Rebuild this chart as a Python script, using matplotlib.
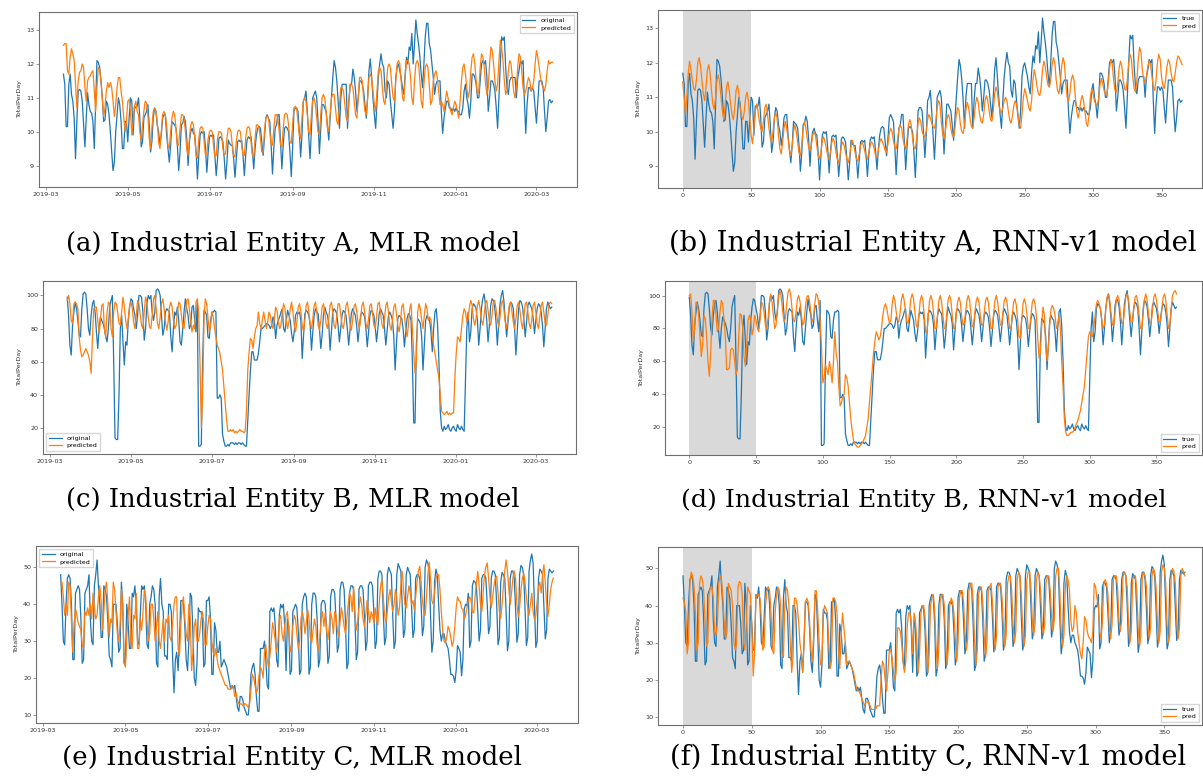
import numpy as np
import pandas as pd
import matplotlib
matplotlib.use("Agg")
import matplotlib.pyplot as plt
import matplotlib.dates as mdates

# one year of daily totals, 2019-03-14 .. 2020-03-13 (rows are Thu..Wed weeks)
dates = pd.date_range("2019-03-14", periods=366, freq="D")
steps = np.arange(366)

a_true = [
    11.7, 11.4, 10.15, 10.15, 11.4, 11.7, 11.1,
    10.9, 10.4, 9.2, 10.3, 11.2, 11.25, 11.2,
    10.9, 10.2, 9.55, 10.4, 11.15, 10.8, 10.6,
    10.55, 10.3, 9.5, 10.8, 12.1, 12.05, 11.9,
    11.5, 11.0, 10.3, 10.35, 10.9, 10.8, 10.5,
    10.0, 9.4, 8.85, 9.1, 10.0, 10.5, 11.0,
    10.8, 10.3, 9.5, 9.5, 10.3, 10.3, 9.7,
    10.4, 11.0, 10.9, 9.9, 10.75, 10.7, 10.75,
    11.0, 10.4, 9.55, 9.7, 10.4, 10.5, 10.6,
    10.8, 10.2, 9.4, 9.7, 10.4, 10.7, 10.6,
    10.2, 10.0, 9.6, 9.9, 10.4, 10.5, 10.5,
    9.9, 9.5, 9.1, 9.6, 10.3, 10.25, 10.2,
    10.1, 9.6, 8.85, 9.4, 10.2, 10.25, 10.45,
    10.3, 9.8, 9.0, 9.7, 10.0, 10.1, 9.95,
    9.9, 9.4, 8.6, 9.3, 9.9, 10.0, 9.95,
    10.0, 9.5, 8.8, 9.4, 9.85, 9.9, 9.85,
    9.9, 9.3, 8.7, 9.2, 9.8, 9.85, 9.8,
    9.7, 9.2, 8.6, 9.1, 9.75, 9.65, 9.6,
    9.6, 9.2, 8.65, 9.2, 9.7, 9.75, 9.7,
    9.75, 9.3, 8.7, 9.3, 9.75, 9.85, 9.8,
    9.85, 9.4, 8.9, 9.5, 9.9, 10.1, 10.15,
    10.1, 9.7, 9.3, 9.8, 10.4, 10.5, 10.4,
    10.3, 9.6, 8.75, 9.5, 10.1, 10.2, 10.5,
    10.5, 9.7, 8.9, 9.6, 10.1, 10.15, 10.1,
    10.0, 9.4, 8.67, 9.5, 10.6, 10.7, 10.7,
    10.6, 10.0, 9.25, 9.9, 10.9, 11.0, 11.2,
    10.6, 9.9, 9.2, 10.0, 11.0, 11.1, 11.2,
    11.0, 10.3, 9.35, 10.1, 10.8, 10.8, 10.7,
    10.6, 10.2, 9.75, 10.4, 11.0, 11.6, 12.1,
    11.9, 11.5, 10.9, 10.1, 11.0, 11.4, 11.4,
    11.4, 11.4, 10.1, 10.9, 11.4, 11.4, 11.85,
    11.6, 11.2, 10.6, 11.0, 11.5, 11.5, 11.4,
    11.2, 10.8, 10.4, 11.0, 11.8, 12.15, 11.6,
    11.0, 10.5, 10.1, 10.9, 11.6, 12.0, 12.3,
    12.0, 11.9, 11.2, 11.0, 11.5, 11.4, 10.9,
    10.5, 10.1, 10.6, 11.6, 11.9, 12.0, 11.8,
    11.6, 11.3, 11.1, 11.7, 12.2, 12.0, 12.5,
    12.4, 12.9, 12.0, 12.6, 13.3, 12.9, 12.6,
    12.2, 11.7, 11.3, 12.0, 12.8, 13.2, 13.2,
    12.6, 12.4, 12.0, 11.6, 11.1, 11.4, 11.5,
    11.5, 11.5, 10.6, 9.95, 10.4, 10.7, 10.9,
    10.9, 10.7, 10.7, 10.6, 10.7, 10.6, 10.7,
    10.6, 10.6, 10.5, 10.5, 10.7, 11.2, 11.4,
    11.0, 10.8, 10.4, 10.9, 11.7, 11.7, 11.6,
    11.4, 11.0, 11.0, 11.5, 12.0, 12.1, 12.0,
    12.1, 11.6, 10.6, 11.0, 11.5, 11.5, 11.4,
    11.2, 10.7, 10.1, 11.0, 12.0, 12.8, 12.7,
    12.8, 11.9, 11.3, 11.1, 11.5, 11.6, 11.6,
    11.6, 11.6, 11.0, 11.6, 11.8, 12.1, 12.0,
    12.1, 10.9, 9.95, 10.8, 11.3, 11.3, 11.2,
    11.3, 11.2, 10.7, 10.25, 10.9, 11.5, 11.5,
    11.5, 11.3, 10.6, 10.0, 10.4, 10.9, 10.95,
    10.85, 10.9,
]

a_mlr = [
    12.55, 12.6, 12.6, 11.8, 11.7, 12.2, 12.45,
    12.3, 12.1, 11.4, 10.7, 11.5, 11.75, 11.8,
    12.0, 11.9, 11.3, 10.9, 11.5, 11.6, 11.65,
    11.75, 11.8, 11.2, 10.6, 11.3, 11.9, 11.85,
    11.5, 11.0, 10.45, 10.7, 11.2, 11.45, 11.3,
    11.45, 11.3, 10.9, 10.45, 10.8, 11.3, 11.6,
    11.6, 11.2, 10.9, 10.4, 10.0, 10.3, 10.9,
    10.95, 10.6, 9.9, 10.3, 10.75, 10.9, 10.6,
    10.5, 10.0, 9.7, 10.2, 10.6, 10.9, 10.85,
    10.5, 9.8, 9.5, 10.1, 10.6, 10.7, 10.6,
    10.3, 9.7, 9.5, 10.0, 10.5, 10.6, 10.5,
    10.2, 9.6, 9.5, 10.0, 10.4, 10.6, 10.5,
    10.1, 9.6, 9.6, 10.1, 10.5, 10.5, 10.4,
    10.0, 9.5, 9.3, 9.8, 10.2, 10.3, 10.2,
    9.8, 9.3, 9.2, 9.8, 10.1, 10.15, 10.1,
    9.7, 9.3, 9.35, 9.8, 10.0, 10.05, 10.0,
    9.6, 9.25, 9.3, 9.8, 10.0, 10.0, 9.95,
    9.5, 9.3, 9.35, 9.8, 10.1, 10.1, 10.0,
    9.6, 9.3, 9.25, 9.7, 10.0, 10.05, 10.0,
    9.6, 9.3, 9.3, 9.8, 10.1, 10.15, 10.1,
    9.7, 9.3, 9.25, 9.8, 10.2, 10.2, 10.1,
    9.8, 9.4, 9.4, 10.0, 10.4, 10.45, 10.4,
    10.0, 9.6, 9.6, 10.1, 10.5, 10.5, 10.4,
    10.0, 9.6, 9.55, 10.1, 10.5, 10.55, 10.5,
    10.2, 9.7, 9.65, 10.2, 10.7, 10.75, 10.7,
    10.3, 9.9, 9.8, 10.4, 10.9, 11.0, 10.9,
    10.5, 10.0, 9.9, 10.5, 10.9, 11.0, 10.8,
    10.4, 10.0, 9.9, 10.5, 11.0, 11.1, 11.0,
    10.6, 10.1, 10.0, 10.5, 11.0, 11.1, 11.1,
    10.7, 10.3, 10.2, 10.8, 11.3, 11.3, 11.2,
    10.8, 10.4, 10.3, 10.9, 11.4, 11.4, 11.3,
    10.9, 10.5, 10.4, 11.0, 11.6, 11.6, 11.5,
    11.0, 10.6, 10.5, 11.0, 11.6, 11.7, 11.6,
    11.2, 10.8, 10.6, 11.2, 11.8, 11.9, 11.8,
    11.3, 10.9, 10.8, 11.4, 11.9, 12.0, 11.9,
    11.4, 11.0, 10.9, 11.5, 12.0, 12.1, 12.0,
    11.5, 11.0, 10.9, 11.6, 12.1, 12.1, 12.0,
    11.6, 11.0, 10.8, 11.5, 12.0, 12.1, 12.0,
    11.5, 10.9, 10.7, 11.4, 11.9, 12.0, 11.9,
    11.4, 10.8, 10.9, 11.5, 11.7, 11.8, 11.6,
    11.2, 10.8, 10.9, 10.8, 10.6, 10.9, 11.2,
    11.0, 10.8, 10.6, 10.5, 10.7, 10.9, 10.8,
    10.6, 10.4, 10.9, 11.5, 11.9, 12.0, 11.7,
    11.3, 11.0, 11.2, 11.8, 12.2, 12.3, 12.0,
    11.5, 11.1, 11.2, 11.9, 12.3, 12.2, 11.9,
    11.4, 11.1, 11.3, 12.0, 12.5, 12.4, 12.0,
    11.5, 11.2, 11.4, 12.1, 12.7, 12.5, 12.1,
    11.5, 11.1, 11.2, 11.8, 12.1, 12.0, 11.6,
    11.2, 11.0, 11.3, 11.9, 12.3, 12.2, 11.8,
    11.3, 11.1, 11.2, 11.4, 11.6, 11.5, 11.2,
    11.3, 11.5, 12.0, 12.4, 12.2, 11.9, 11.6,
    11.4, 11.3, 11.2, 11.4, 11.8, 12.1, 12.0,
    12.05, 12.05,
]

a_rnn = [
    11.45, 11.0, 10.5, 11.0, 11.7, 12.05, 11.8,
    11.5, 11.25, 11.2, 11.5, 12.0, 12.15, 11.9,
    11.5, 11.1, 10.9, 11.3, 11.8, 11.95, 11.7,
    11.2, 10.8, 10.65, 11.0, 11.5, 11.65, 11.4,
    11.0, 10.6, 10.35, 10.8, 11.3, 11.45, 11.2,
    10.8, 10.5, 10.35, 10.7, 11.2, 11.35, 11.1,
    10.7, 10.45, 10.35, 10.6, 11.0, 11.15, 10.9,
    10.4, 9.9, 9.65, 10.1, 10.6, 10.8, 10.6,
    10.3, 10.1, 10.0, 10.3, 10.7, 10.8, 10.5,
    10.1, 9.8, 9.7, 10.0, 10.4, 10.55, 10.4,
    9.9, 9.5, 9.35, 9.7, 10.1, 10.3, 10.1,
    9.8, 9.45, 9.3, 9.6, 10.0, 10.2, 10.0,
    9.7, 9.4, 9.3, 9.6, 10.1, 10.3, 10.1,
    9.8, 9.55, 9.45, 9.6, 9.9, 10.0, 9.9,
    9.6, 9.3, 9.2, 9.4, 9.75, 9.85, 9.7,
    9.5, 9.3, 9.2, 9.4, 9.7, 9.8, 9.7,
    9.4, 9.2, 9.1, 9.3, 9.6, 9.7, 9.6,
    9.4, 9.2, 9.1, 9.3, 9.6, 9.75, 9.6,
    9.4, 9.2, 9.15, 9.35, 9.6, 9.7, 9.6,
    9.45, 9.25, 9.2, 9.4, 9.6, 9.7, 9.65,
    9.5, 9.3, 9.25, 9.45, 9.7, 9.8, 9.7,
    9.6, 9.45, 9.4, 9.65, 9.95, 10.1, 10.0,
    9.75, 9.55, 9.5, 9.75, 10.05, 10.2, 10.1,
    9.8, 9.6, 9.5, 9.8, 10.2, 10.35, 10.2,
    9.8, 9.55, 9.5, 9.8, 10.25, 10.4, 10.3,
    10.0, 9.9, 9.85, 10.0, 10.35, 10.5, 10.4,
    10.25, 10.15, 10.1, 10.3, 10.7, 10.9, 10.8,
    10.3, 9.95, 9.8, 10.0, 10.35, 10.5, 10.4,
    10.1, 9.9, 9.85, 10.1, 10.5, 10.7, 10.6,
    10.2, 10.0, 9.95, 10.2, 10.65, 10.85, 10.7,
    10.4, 10.15, 10.1, 10.4, 10.8, 11.0, 10.85,
    10.5, 10.3, 10.25, 10.5, 10.9, 11.05, 10.9,
    10.6, 10.35, 10.3, 10.6, 11.1, 11.3, 11.15,
    10.8, 10.6, 10.55, 10.7, 10.9, 11.0, 10.9,
    10.6, 10.35, 10.25, 10.45, 10.75, 10.9, 10.8,
    10.5, 10.2, 10.1, 10.5, 11.0, 11.25, 11.1,
    10.9, 10.7, 10.6, 10.9, 11.5, 11.8, 11.6,
    11.3, 11.1, 11.05, 11.3, 11.8, 12.05, 11.9,
    11.6, 11.35, 11.3, 11.5, 11.95, 12.15, 12.0,
    11.5, 11.2, 11.1, 11.4, 11.9, 12.15, 12.0,
    11.4, 11.0, 10.9, 11.1, 11.5, 11.65, 11.5,
    11.0, 10.6, 10.4, 10.6, 10.9, 11.05, 10.9,
    10.6, 10.25, 10.15, 10.5, 11.0, 11.25, 11.1,
    10.9, 10.8, 10.75, 10.95, 11.35, 11.55, 11.4,
    11.2, 11.1, 11.05, 11.4, 11.85, 12.1, 11.95,
    11.5, 11.2, 11.15, 11.4, 11.85, 12.05, 11.9,
    11.5, 11.25, 11.2, 11.5, 12.0, 12.25, 12.1,
    11.6, 11.25, 11.15, 11.5, 12.1, 12.45, 12.3,
    11.8, 11.5, 11.4, 11.6, 11.9, 12.05, 11.95,
    11.6, 11.3, 11.2, 11.5, 12.0, 12.25, 12.1,
    11.6, 11.35, 11.25, 11.5, 11.9, 12.1, 12.0,
    11.7, 11.5, 11.45, 11.7, 12.0, 12.2, 12.15,
    12.05, 11.95,
]

b_true = [
    99, 88, 70, 64, 82, 90, 96,
    92, 85, 76, 75, 92, 101, 102,
    101, 92, 80, 76, 88, 95, 97,
    90, 78, 68, 80, 87, 85, 83,
    80, 75, 72, 80, 93, 97, 100,
    60, 14, 13, 13, 40, 80, 88,
    72, 58, 72, 70, 85, 93, 98,
    97, 92, 88, 80, 88, 100, 100,
    99, 90, 73, 80, 95, 100, 98,
    100, 90, 85, 90, 103, 104, 103,
    100, 88, 76, 80, 90, 92, 91,
    90, 75, 66, 80, 90, 88, 93,
    85, 72, 70, 80, 90, 98, 92,
    88, 80, 82, 93, 94, 85, 78,
    97, 9, 9, 10, 60, 91, 90,
    88, 75, 74, 85, 90, 90, 91,
    90, 38, 38, 40, 38, 16, 12,
    9, 9, 10, 9, 11, 11, 11,
    10, 11, 10, 11, 11, 10, 11,
    10, 9, 9, 25, 40, 55, 66,
    66, 61, 61, 61, 65, 72, 80,
    80, 81, 82, 83, 83, 82, 80,
    82, 87, 85, 74, 82, 85, 87,
    90, 92, 80, 78, 85, 91, 88,
    85, 77, 72, 78, 88, 90, 89,
    90, 85, 62, 75, 89, 91, 90,
    88, 82, 67, 78, 88, 92, 90,
    89, 80, 68, 76, 88, 93, 90,
    88, 83, 67, 78, 90, 92, 91,
    89, 82, 72, 80, 88, 91, 90,
    88, 80, 70, 79, 89, 92, 90,
    88, 82, 72, 80, 88, 90, 89,
    87, 80, 69, 78, 88, 91, 90,
    88, 81, 72, 80, 89, 92, 90,
    88, 80, 70, 79, 88, 90, 88,
    85, 75, 55, 70, 86, 88, 87,
    86, 80, 69, 78, 86, 89, 88,
    85, 60, 23, 23, 70, 86, 85,
    83, 75, 55, 70, 85, 88, 86,
    85, 78, 66, 80, 90, 92, 82,
    60, 30, 20, 18, 21, 19, 20,
    22, 19, 18, 20, 21, 19, 18,
    22, 20, 19, 21, 19, 18, 50,
    80, 90, 72, 78, 92, 95, 94,
    92, 85, 70, 80, 92, 98, 101,
    95, 85, 72, 82, 94, 98, 97,
    93, 84, 70, 82, 95, 100, 103,
    96, 85, 75, 84, 93, 96, 95,
    92, 80, 64, 78, 92, 97, 96,
    93, 85, 75, 84, 94, 96, 94,
    92, 86, 77, 85, 92, 95, 94,
    90, 82, 69, 80, 92, 96, 94,
    92, 93,
]

b_mlr = [
    97, 100, 95, 85, 83, 95, 96,
    95, 92, 75, 67, 63, 64, 66,
    68, 66, 64, 60, 53, 75, 92,
    93, 93, 85, 77, 85, 94, 95,
    80, 75, 90, 96, 95, 80, 75,
    90, 96, 95, 90, 83, 82, 90,
    99, 93, 85, 80, 86, 94, 96,
    92, 84, 80, 88, 97, 95, 88,
    82, 80, 90, 99, 96, 87, 81,
    80, 88, 98, 100, 92, 83, 80,
    87, 95, 98, 92, 84, 79, 84,
    93, 96, 93, 85, 80, 82, 90,
    96, 95, 88, 81, 80, 88, 97,
    98, 92, 84, 78, 82, 80, 96,
    98, 90, 60, 20, 40, 85, 98,
    95, 87, 78, 82, 90, 87, 80,
    75, 70, 68, 65, 60, 55, 45,
    35, 25, 18, 18, 19, 18, 19,
    17, 18, 17, 18, 19, 18, 18,
    17, 18, 30, 55, 66, 74, 73,
    68, 75, 80, 82, 90, 83, 80,
    85, 90, 85, 80, 84, 90, 88,
    82, 80, 86, 93, 91, 84, 80,
    82, 90, 95, 92, 85, 80, 84,
    92, 96, 90, 82, 78, 84, 93,
    95, 90, 82, 78, 85, 94, 96,
    90, 83, 80, 86, 94, 96, 90,
    82, 79, 85, 93, 95, 90, 83,
    80, 86, 94, 96, 90, 82, 80,
    87, 95, 95, 89, 82, 80, 86,
    94, 96, 90, 83, 79, 85, 93,
    95, 91, 84, 80, 86, 94, 96,
    90, 83, 80, 86, 94, 95, 89,
    82, 80, 87, 95, 96, 90, 83,
    80, 86, 94, 96, 90, 82, 79,
    85, 93, 95, 89, 82, 78, 84,
    93, 95, 88, 80, 75, 82, 92,
    95, 80, 65, 53, 60, 90, 95,
    92, 85, 80, 88, 95, 92, 85,
    87, 85, 75, 70, 65, 60, 55,
    50, 40, 30, 29, 28, 29, 30,
    28, 29, 28, 29, 29, 50, 65,
    75, 74, 72, 80, 88, 92, 90,
    84, 86, 93, 97, 94, 86, 82,
    86, 94, 97, 92, 85, 82, 88,
    95, 97, 91, 84, 82, 88, 96,
    97, 92, 85, 81, 87, 95, 97,
    91, 84, 80, 86, 94, 96, 90,
    84, 80, 86, 94, 96, 91, 84,
    80, 87, 95, 96, 90, 83, 80,
    86, 94, 96, 90, 83, 80, 87,
    94, 96, 90, 83, 82, 88, 95,
    96, 95,
]

b_rnn = [
    100, 101, 90, 72, 80, 96, 95,
    88, 75, 63, 70, 88, 86, 75,
    60, 51, 65, 86, 97, 97, 88,
    78, 80, 90, 97, 95, 85, 75,
    55, 55, 56, 67, 68, 67, 60,
    52, 55, 75, 89, 88, 80, 63,
    57, 70, 85, 88, 86, 76, 80,
    88, 85, 80, 78, 85, 96, 95,
    90, 82, 80, 86, 96, 101, 96,
    88, 80, 82, 92, 100, 103, 98,
    90, 84, 86, 95, 102, 104, 100,
    92, 85, 84, 90, 98, 100, 96,
    88, 82, 84, 93, 99, 100, 97,
    90, 84, 86, 95, 101, 100, 95,
    85, 70, 47, 50, 58, 55, 52,
    60, 55, 47, 60, 78, 65, 60,
    45, 33, 35, 38, 40, 52, 50,
    45, 35, 25, 18, 12, 10, 9,
    8, 8, 9, 10, 11, 13, 15,
    20, 25, 35, 45, 55, 65, 72,
    78, 76, 73, 75, 80, 88, 93,
    95, 92, 87, 83, 85, 95, 100,
    97, 90, 85, 84, 90, 98, 101,
    97, 90, 84, 83, 90, 98, 101,
    98, 90, 82, 80, 88, 97, 100,
    97, 88, 78, 77, 87, 97, 100,
    97, 89, 80, 80, 88, 97, 100,
    96, 88, 80, 80, 90, 98, 100,
    97, 88, 80, 80, 88, 96, 99,
    96, 88, 82, 83, 90, 97, 100,
    97, 89, 81, 82, 90, 97, 99,
    96, 88, 82, 82, 90, 97, 99,
    96, 88, 80, 80, 89, 97, 100,
    96, 89, 82, 82, 90, 97, 99,
    96, 88, 80, 80, 88, 96, 98,
    94, 85, 75, 74, 85, 95, 98,
    95, 88, 80, 80, 88, 96, 98,
    95, 88, 75, 62, 65, 82, 93,
    88, 70, 60, 68, 82, 92, 94,
    92, 88, 80, 82, 88, 80, 60,
    45, 25, 17, 15, 15, 16, 17,
    17, 18, 20, 22, 24, 27, 30,
    35, 40, 45, 55, 65, 75, 78,
    76, 75, 80, 88, 95, 97, 95,
    92, 85, 80, 82, 92, 99, 101,
    97, 89, 82, 82, 90, 98, 100,
    97, 89, 83, 83, 91, 99, 101,
    98, 90, 84, 84, 92, 99, 100,
    96, 88, 80, 80, 89, 98, 101,
    97, 89, 83, 83, 91, 99, 101,
    97, 90, 84, 84, 92, 99, 101,
    97, 88, 80, 82, 92, 100, 102,
    103, 101,
]

c_true = [
    48, 40, 30, 29, 40, 47, 48,
    47, 40, 25, 25, 43, 44, 45,
    44, 36, 24, 25, 43, 44, 45,
    48, 36, 30, 29, 45, 48, 52,
    45, 40, 31, 31, 45, 44, 42,
    35, 26, 25, 23, 40, 40, 40,
    35, 27, 28, 46, 40, 24, 25,
    40, 35, 28, 28, 43, 42, 45,
    40, 30, 29, 37, 45, 44, 45,
    40, 29, 28, 40, 42, 45, 44,
    40, 24, 23, 42, 47, 40, 38,
    26, 26, 25, 40, 40, 38, 25,
    16, 25, 27, 22, 30, 41, 41,
    40, 34, 25, 22, 30, 43, 42,
    32, 20, 18, 24, 39, 38, 38,
    36, 23, 24, 41, 41, 42, 36,
    21, 21, 35, 33, 27, 27, 30,
    23, 24, 25, 24, 23, 21, 19,
    17, 18, 17, 18, 15, 12, 11,
    15, 15, 14, 12, 11, 10, 10,
    14, 21, 23, 24, 21, 15, 11,
    11, 28, 28, 28, 30, 25, 18,
    17, 38, 39, 38, 39, 34, 25,
    23, 37, 40, 39, 40, 34, 22,
    36, 34, 21, 22, 38, 39, 40,
    39, 33, 21, 22, 40, 42, 43,
    42, 35, 21, 23, 40, 43, 43,
    42, 36, 23, 25, 40, 41, 41,
    40, 33, 24, 26, 42, 44, 44,
    43, 36, 27, 29, 44, 46, 46,
    44, 35, 22.5, 24, 43, 45, 45,
    44, 36, 25, 27, 44, 45, 45,
    44, 37, 27.5, 30, 45, 46, 46,
    45, 38, 28, 30, 47, 49, 49,
    48, 38, 29, 31, 48, 50, 49,
    48, 37, 28, 30, 48, 51, 50,
    49, 40, 31, 33, 48, 50, 49,
    48, 39, 31, 33, 47, 48, 48,
    47, 40, 31.5, 34, 50, 52, 51,
    49, 37, 27, 30, 46, 49.5, 48,
    40, 33, 30, 32, 32, 30, 29,
    28, 25, 21, 21, 20.5, 18.8, 22,
    28.8, 28, 27, 20.6, 25, 38.7, 40,
    39.6, 43, 28.3, 30, 45, 46.4, 46,
    45, 38, 30, 33, 47, 48, 48,
    47, 40, 32, 34, 47, 49, 49,
    48, 40, 29, 31, 46, 48.6, 48,
    47, 38, 27.4, 30, 47, 49, 49,
    47, 39, 29.7, 32, 48, 50.5, 50,
    48, 39, 28.8, 31, 49, 52, 53.6,
    51, 40, 28.3, 30, 47, 49.5, 49,
    48, 39, 30.6, 33, 47, 49.5, 49,
    48.5, 49,
]

c_mlr = [
    46, 46, 42, 37, 40, 37, 46,
    45, 35, 27, 35, 39, 37, 35,
    34, 33, 29, 28, 38, 37, 39,
    37, 40, 36, 43, 39, 36, 37,
    42, 45, 41, 33, 38, 44, 46,
    40, 31, 36, 35, 46, 44, 38,
    32, 30, 34, 44, 40, 24, 23,
    31, 37, 42, 30, 28, 37, 36,
    43, 28, 28, 36, 33, 38, 44,
    42, 35, 30, 32, 40, 40, 36,
    30, 34, 38, 30, 28, 32, 36,
    30, 36, 35, 37, 31, 30, 35,
    40, 42, 42, 28, 26, 34, 40,
    42, 36, 32, 30, 40, 36, 22,
    27, 34, 36, 30, 30, 32, 36,
    38, 35, 29, 29, 34, 37, 36,
    30, 27, 26, 28, 25, 23, 22,
    21, 20, 19, 18, 18, 17, 17,
    17, 18, 17.5, 15, 16, 14, 13,
    13, 13, 12.5, 13, 13, 12.5, 12,
    13, 17, 21, 20, 18, 16, 17,
    21, 23, 22, 20, 27, 29, 25,
    23, 26, 30, 35, 33, 30, 27,
    30, 36, 37, 32, 30, 34, 37,
    38, 33, 27, 29, 34, 37, 36,
    32, 28, 30, 36, 38, 36, 32,
    35, 38.5, 36, 31, 29.5, 33, 36,
    34, 29, 27.6, 31, 36, 38, 34,
    37.6, 33, 30.4, 34, 38, 36, 32,
    38, 37, 33, 31.3, 35, 39, 37,
    34, 32, 36, 40, 43, 42, 38,
    44.8, 38, 33, 35, 39, 42, 40,
    36, 34, 37, 41, 38, 35, 38,
    37, 35, 39, 36, 34.4, 40, 45,
    46.7, 42, 37, 35, 38, 42, 44,
    41, 38, 40, 44, 42, 37, 39,
    45, 48.9, 44, 40, 39, 42, 45,
    43, 40, 41, 38.5, 42, 46, 49,
    50.3, 46, 41, 38, 37, 42, 48,
    51.4, 47, 41, 40, 43, 47, 48,
    48, 44, 38, 33, 30, 29.5, 31,
    34, 33, 31, 28.6, 30, 34, 39,
    42, 41, 40.8, 39, 38.5, 36, 37,
    39, 41, 42, 41, 38, 37.6, 42,
    46, 48.9, 45, 40, 38, 43, 48,
    50, 51.2, 47, 42, 39, 42, 45,
    47, 47.6, 43, 38, 36.2, 40, 45,
    49, 52, 49, 44, 40, 43, 47,
    49, 47, 40, 36.7, 39, 44, 47,
    48.4, 46, 42, 39, 37, 40, 43,
    38, 35.8, 37, 41, 44.8, 46, 43,
    48, 50.7, 46, 40, 36.7, 40, 44,
    46, 47.1,
]

c_rnn = [
    42, 41, 38, 27, 30, 46, 49,
    48, 45, 38, 28, 30, 46, 48,
    47, 44, 36, 29, 30, 43, 45,
    45, 42, 33, 32, 35, 46, 48,
    47, 42, 35, 31, 33, 46, 45,
    44, 40, 30, 28, 30, 45, 46.5,
    46, 43, 30, 28, 35, 45, 44,
    43, 35, 21, 27, 42, 43, 43,
    42, 36, 28, 29, 40, 44, 45,
    44, 38, 28, 27, 38, 43, 45,
    44, 40, 27, 26, 40, 45, 44,
    40, 30, 22, 26, 42, 42, 40,
    36, 30, 27, 22, 30, 41, 42,
    41, 36, 28, 25, 32, 44, 44,
    38, 30, 24, 25, 38, 40, 39,
    38, 30, 23, 25, 42, 42, 41,
    38, 28, 23, 32, 38, 34, 30,
    24, 25, 25, 24, 23, 22, 20,
    18, 17, 17, 16, 15, 14, 13,
    14, 14, 14, 13, 12, 12, 12,
    12, 13, 13, 13, 20, 25, 24,
    20, 17, 22, 28, 28, 26, 22,
    20, 22, 34, 34, 33, 30, 25,
    22, 25, 34, 38, 38, 35, 27,
    38, 36, 30, 22, 27, 38, 40,
    40, 37, 29, 22, 27, 40, 42,
    43, 39, 29, 23, 28, 41, 43,
    43, 40, 30, 24, 29, 40, 42,
    41, 38, 31, 25, 30, 42, 44,
    44, 41, 33, 28, 31, 44, 46,
    46, 41, 31, 24, 28, 43, 45,
    45, 41, 32, 26, 30, 44, 45,
    46, 41, 33, 28, 32, 45, 46,
    46, 42, 34, 29, 32, 46, 48,
    48, 44, 35, 30, 33, 47, 49,
    48, 43, 34, 29, 32, 47, 49,
    49, 45, 36, 32, 35, 47, 49,
    48, 44, 36, 32, 35, 46, 48,
    48, 44, 37, 33, 36, 48, 50,
    50, 44, 33, 29, 32, 45, 48,
    47, 44, 36, 33, 34, 40, 38,
    33, 30, 27, 25.6, 30, 37, 36,
    33, 31.5, 31, 30, 33, 46, 45,
    42, 40, 33, 31, 36, 46, 47,
    46, 43, 34, 31, 35, 47, 48,
    48, 45, 36, 33, 36, 48, 49,
    48, 45, 35, 30, 33, 47, 48,
    48, 44, 34, 29, 32, 48, 49,
    48, 45, 35, 31, 34, 48, 50,
    49, 45, 35, 30, 33, 49, 51,
    50, 46, 35, 30, 32, 48, 50,
    49, 46, 36, 31, 34, 48, 50,
    49, 48,
]

captions = [
    "(a) Industrial Entity A, MLR model",
    "(b) Industrial Entity A, RNN-v1 model",
    "(c) Industrial Entity B, MLR model",
    "(d) Industrial Entity B, RNN-v1 model",
    "(e) Industrial Entity C, MLR model",
    "(f) Industrial Entity C, RNN-v1 model",
]

W, H = 1203, 784
BLUE, ORANGE = "#1f77b4", "#ff7f0e"
SMALL = 4.6


def box(left, top, right, bottom):
    # pixel box -> figure fraction rect
    return [left / W, 1 - bottom / H, (right - left) / W, (bottom - top) / H]


def style(ax):
    for s in ax.spines.values():
        s.set_color("#6f6f6f")
        s.set_linewidth(0.8)
    ax.tick_params(labelsize=SMALL, length=2, width=0.5, pad=1.5,
                   colors="#6f6f6f", labelcolor="#333333")
    ax.set_ylabel("TotalPerDay", fontsize=SMALL, color="#333333", labelpad=3)


def legend(ax, lines, labels, loc):
    ax.legend(lines, labels, loc=loc, fontsize=SMALL, handlelength=2.0,
              borderpad=0.4, labelspacing=0.3, framealpha=0.8,
              edgecolor="#cccccc", fancybox=False)


fig = plt.figure(figsize=(W / 100, H / 100), dpi=100)
fig.patch.set_facecolor("white")

mlr_boxes = [(39, 12, 577, 187), (43, 281, 576, 454), (36, 546, 578, 723)]
rnn_boxes = [(658, 10, 1202, 188), (665, 281, 1202, 455), (658, 547, 1202, 725)]
rnn_xlims = [(-18.1, 379.6), (-18.2, 384.1), (-18.2, 377.4)]
trues = [a_true, b_true, c_true]
mlrs = [a_mlr, b_mlr, c_mlr]
rnns = [a_rnn, b_rnn, c_rnn]
mlr_legend = ["upper right", "lower left", "upper left"]
rnn_legend = ["upper right", "lower right", "lower right"]
yticks = [np.arange(9, 14, 1), np.arange(20, 101, 20), np.arange(10, 51, 10)]

for i in range(3):
    ax = fig.add_axes(box(*mlr_boxes[i]))
    l1, = ax.plot(dates, trues[i], color=BLUE, lw=0.9)
    l2, = ax.plot(dates, mlrs[i], color=ORANGE, lw=0.9)
    ax.xaxis.set_major_locator(mdates.MonthLocator(bymonth=[1, 3, 5, 7, 9, 11]))
    ax.xaxis.set_major_formatter(mdates.DateFormatter("%Y-%m"))
    ax.set_yticks(yticks[i])
    style(ax)
    legend(ax, [l1, l2], ["original", "predicted"], mlr_legend[i])

    ax = fig.add_axes(box(*rnn_boxes[i]))
    ax.axvspan(0, 50, color="#d9d9d9", lw=0, zorder=0)
    l1, = ax.plot(steps, trues[i], color=BLUE, lw=0.9)
    l2, = ax.plot(steps, rnns[i], color=ORANGE, lw=0.9)
    ax.set_xlim(*rnn_xlims[i])
    ax.set_xticks(np.arange(0, 351, 50))
    ax.set_yticks(yticks[i])
    style(ax)
    legend(ax, [l1, l2], ["true", "pred"], rnn_legend[i])

caption_pos = [(293, 243), (933, 243), (293, 500), (924, 500), (292, 757), (928, 757)]
caption_size = [18.6, 19.8, 18.6, 18.2, 18.8, 19.6]
for text, (cx, cy), fs in zip(captions, caption_pos, caption_size):
    fig.text(cx / W, 1 - cy / H, text, ha="center", va="center",
             fontsize=fs, family="DejaVu Serif", color="black")

fig.savefig("out.png", dpi=100)
